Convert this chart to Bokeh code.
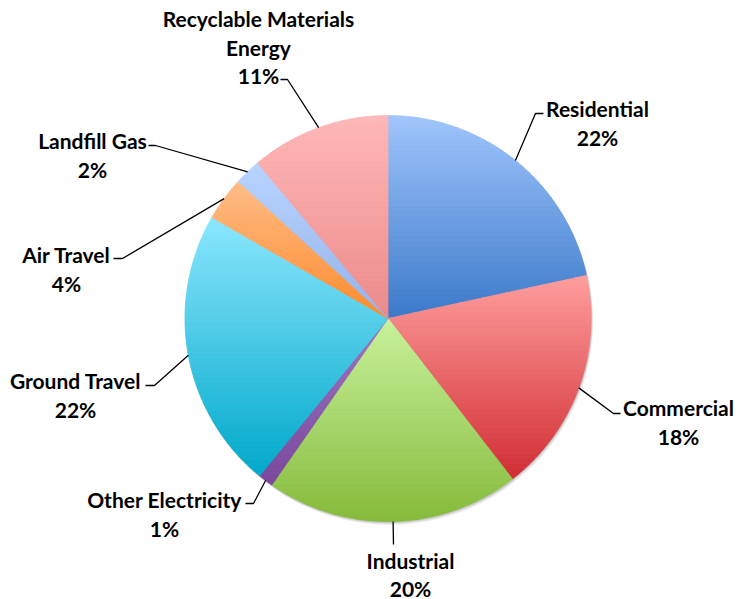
import numpy as np
from bokeh.plotting import figure
from bokeh.models import Range1d
from bokeh.embed import file_html
from bokeh.resources import INLINE
from bokeh.core.properties import value

# ---------------- data ----------------
categories = ["Residential", "Commercial", "Industrial", "Other Electricity",
              "Ground Travel", "Air Travel", "Landfill Gas", "Recyclable Materials Energy"]
shares = [21.6, 17.9, 20.2, 1.2, 22.4, 3.5, 2.1, 11.1]
pct_labels = ["22%", "18%", "20%", "1%", "22%", "4%", "2%", "11%"]
name_lines = [["Residential"], ["Commercial"], ["Industrial"], ["Other Electricity"],
              ["Ground Travel"], ["Air Travel"], ["Landfill Gas"],
              ["Recyclable Materials", "Energy"]]

# ---------------- styles ----------------
top_colors = ["#A0C5FC", "#FF9E9E", "#C8F29C", "#9C76C2", "#8CE7FF", "#FFBD88", "#B9D4FF", "#FFB8B8"]
bottom_colors = ["#3B7ACA", "#D12D33", "#86BB3B", "#7A489D", "#00A9CA", "#FF8A2C", "#94B3EC", "#EC8A8A"]

# ---------------- layout (page pixels, y downward) ----------------
CX, CY, R = 387.5, 318.0, 203.0
# (elbow_x, elbow_y, end_x, label_center_x, first_baseline_y, line_step)
label_layout = [
    (535, 113, 543, 597, 108, 28.5),
    (613, 413, 620, 678, 407, 28.5),
    (393, 544, 393, 410, 560, 27.5),
    (253, 503, 245, 164, 499, 28.5),
    (154, 385, 145, 75, 380, 28.5),
    (122, 258, 113, 66, 254, 28.5),
    (155, 145, 148, 92, 140, 28.5),
    (287, 79, 280, 258, 18, 28.5),
]

W, H = 736, 599
p = figure(width=W, height=H, x_range=Range1d(0, W), y_range=Range1d(H, 0),
           output_backend="svg", toolbar_location=None, min_border=0,
           x_axis_location=None, y_axis_location=None)
p.xgrid.visible = False
p.ygrid.visible = False
p.outline_line_color = None
p.background_fill_color = "white"
p.border_fill_color = "white"

# soft shadow
for off, a in [(3.0, 0.06), (2.0, 0.08), (1.0, 0.10)]:
    p.circle(x=[CX + off * 0.6], y=[CY + off], radius=R + 0.5, fill_color="#000000",
             fill_alpha=a, line_color=None)


def hex2rgb(h):
    h = h.lstrip("#")
    return np.array([int(h[i:i + 2], 16) for i in (0, 2, 4)], dtype=float)


def rgb2hex(c):
    c = np.clip(np.round(c), 0, 255).astype(int)
    return "#%02x%02x%02x" % tuple(c)


def clip_half(poly, yc, keep_ge):
    out = []
    n = len(poly)
    for i in range(n):
        a = poly[i]
        b = poly[(i + 1) % n]
        ina = (a[1] >= yc) if keep_ge else (a[1] <= yc)
        inb = (b[1] >= yc) if keep_ge else (b[1] <= yc)
        if ina:
            out.append(a)
        if ina != inb:
            t = (yc - a[1]) / (b[1] - a[1])
            out.append((a[0] + t * (b[0] - a[0]), yc))
    return out


total = float(sum(shares))
cum = np.concatenate([[0.0], np.cumsum(shares)]) / total * 2 * np.pi

xs_all, ys_all, cols_all = [], [], []
mids = []
for i in range(len(shares)):
    a0, a1 = cum[i], cum[i + 1]
    mids.append(0.5 * (a0 + a1))
    th = np.linspace(a0, a1, max(4, int(np.degrees(a1 - a0) * 2)))
    poly = [(CX, CY)] + [(CX + R * np.sin(t), CY - R * np.cos(t)) for t in th]
    ys_p = [q[1] for q in poly]
    ymin, ymax = min(ys_p), max(ys_p)
    nb = max(2, int((ymax - ymin) / 2.5))
    edges = np.linspace(ymin, ymax, nb + 1)
    c0, c1 = hex2rgb(top_colors[i]), hex2rgb(bottom_colors[i])
    for b in range(nb):
        piece = clip_half(poly, edges[b], True)
        if len(piece) < 3:
            continue
        piece = clip_half(piece, edges[b + 1], False)
        if len(piece) < 3:
            continue
        t = (0.5 * (edges[b] + edges[b + 1]) - ymin) / (ymax - ymin)
        xs_all.append([q[0] for q in piece])
        ys_all.append([q[1] for q in piece])
        cols_all.append(rgb2hex(c0 + (c1 - c0) * t))

p.patches(xs=xs_all, ys=ys_all, fill_color=cols_all, line_color=cols_all, line_width=0.8)

# leader lines
lx, ly = [], []
for i, m in enumerate(mids):
    ex, ey, endx = label_layout[i][:3]
    sx, sy = CX + R * np.sin(m), CY - R * np.cos(m)
    lx.append([sx, ex, endx])
    ly.append([sy, ey, ey])
p.multi_line(xs=lx, ys=ly, line_color="#000000", line_width=1.3)

# labels
tx, ty, tt = [], [], []
for i in range(len(categories)):
    cx, by, step = label_layout[i][3:]
    lines = name_lines[i] + [pct_labels[i]]
    for k, s in enumerate(lines):
        tx.append(cx)
        ty.append(by + k * step)
        tt.append(s)
p.text(x=tx, y=ty, text=tt, text_font=value("Lato"), text_font_style="bold",
       text_font_size="21px", text_align="center", text_baseline="alphabetic",
       text_color="#000000")

open("out.html", "w").write(file_html(p, INLINE))
